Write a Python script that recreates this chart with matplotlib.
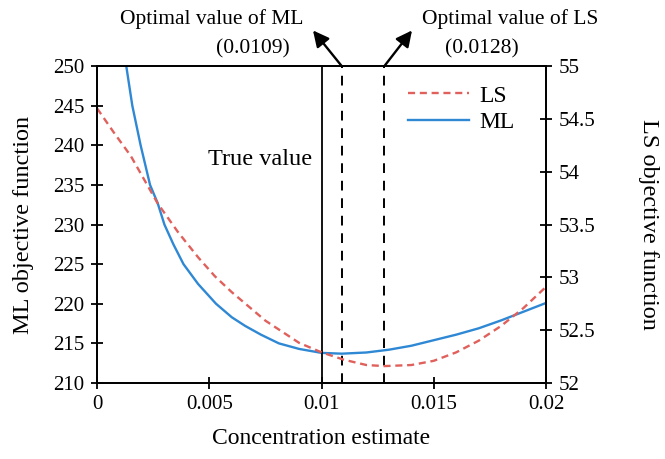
import matplotlib
matplotlib.use("Agg")
import matplotlib.pyplot as plt

plt.rcParams["font.family"] = ["Liberation Serif", "DejaVu Serif"]

# values
ml_x = [0.0013, 0.00157, 0.00194, 0.00236, 0.0027, 0.003, 0.0034, 0.00385, 0.0045,
        0.0053, 0.006, 0.0066, 0.0073, 0.0081, 0.009, 0.010, 0.0109, 0.012, 0.013,
        0.014, 0.015, 0.016, 0.017, 0.018, 0.019, 0.020]
ml_y = [250, 245, 240, 235, 232.7, 230, 227.5, 225, 222.5,
        220, 218.3, 217.2, 216.1, 215, 214.3, 213.8, 213.7, 213.85, 214.2,
        214.7, 215.4, 216.1, 216.9, 217.9, 219, 220.1]
ls_x = [0.0, 0.00075, 0.0015, 0.0027, 0.0036, 0.0045, 0.00525, 0.006, 0.0075, 0.009,
        0.010, 0.011, 0.012, 0.0128, 0.014, 0.015, 0.016, 0.017, 0.018, 0.019, 0.020]
ls_y = [54.6, 54.37, 54.15, 53.70, 53.43, 53.19, 53.01, 52.86, 52.59, 52.38,
        52.29, 52.22, 52.17, 52.16, 52.17, 52.21, 52.29, 52.40, 52.54, 52.71, 52.91]
true_value = 0.01
opt_ml = 0.0109
opt_ls = 0.0128
x_ticks = [0, 0.005, 0.01, 0.015, 0.02]
x_labels = ["0", "0.005", "0.01", "0.015", "0.02"]
left_ticks = [210, 215, 220, 225, 230, 235, 240, 245, 250]
right_ticks = [52, 52.5, 53, 53.5, 54, 54.5, 55]
right_labels = ["52", "52.5", "53", "53.5", "54", "54.5", "55"]

BLUE = "#2f88d4"
RED = "#e0605c"

fig = plt.figure(figsize=(6.65, 4.59), dpi=100)
ax = fig.add_axes([0.146, 0.1656, 0.675, 0.6904])
ax2 = ax.twinx()

ml_line, = ax.plot(ml_x, ml_y, color=BLUE, lw=1.7)
ls_line, = ax2.plot(ls_x, ls_y, color=RED, lw=1.7, ls=(0, (3, 2)))

ax.axvline(true_value, color="black", lw=1.3)
for v in (opt_ml, opt_ls):
    ax.axvline(v, color="black", lw=1.4, ls=(0, (5, 4)))

ax.set_xlim(0, 0.02)
ax.set_ylim(210, 250)
ax2.set_ylim(52, 55)
ax.set_xticks(x_ticks)
ax.set_xticklabels(x_labels)
ax.set_yticks(left_ticks)
ax2.set_yticks(right_ticks)
ax2.set_yticklabels(right_labels)
for a in (ax, ax2):
    a.tick_params(direction="inout", length=8, width=1.3, labelsize=15, pad=5)
    for s in a.spines.values():
        s.set_linewidth(1.3)

ax.set_xlabel("Concentration estimate", fontsize=17, labelpad=10)
ax.set_ylabel("ML objective function", fontsize=17.5, labelpad=14)
ax2.set_ylabel("LS objective function", fontsize=17.5, rotation=270, labelpad=46)

ax.text(0.0096, 238.2, "True value", ha="right", va="center", fontsize=17.5)

ax.legend([ls_line, ml_line], ["LS", "ML"], loc="upper left",
          bbox_to_anchor=(0.692, 0.94), frameon=False, fontsize=17,
          handlelength=2.6, handletextpad=0.45, borderpad=0, borderaxespad=0,
          labelspacing=0.2)

# arrows from the top of the dashed lines
ax.annotate("", xy=(0.00962, 254.5), xytext=(opt_ml, 250), annotation_clip=False,
            arrowprops=dict(arrowstyle="-|>", color="black", lw=1.7, mutation_scale=24,
                            shrinkA=0, shrinkB=0))
ax.annotate("", xy=(0.01403, 254.5), xytext=(opt_ls, 250), annotation_clip=False,
            arrowprops=dict(arrowstyle="-|>", color="black", lw=1.7, mutation_scale=24,
                            shrinkA=0, shrinkB=0))

fig.text(0.319, 0.958, "Optimal value of ML", ha="center", va="center", fontsize=15.5)
fig.text(0.381, 0.893, "(0.0109)", ha="center", va="center", fontsize=15.5)
fig.text(0.767, 0.958, "Optimal value of LS", ha="center", va="center", fontsize=15.5)
fig.text(0.724, 0.893, "(0.0128)", ha="center", va="center", fontsize=15.5)

fig.savefig("out.png", dpi=100, facecolor="white")
